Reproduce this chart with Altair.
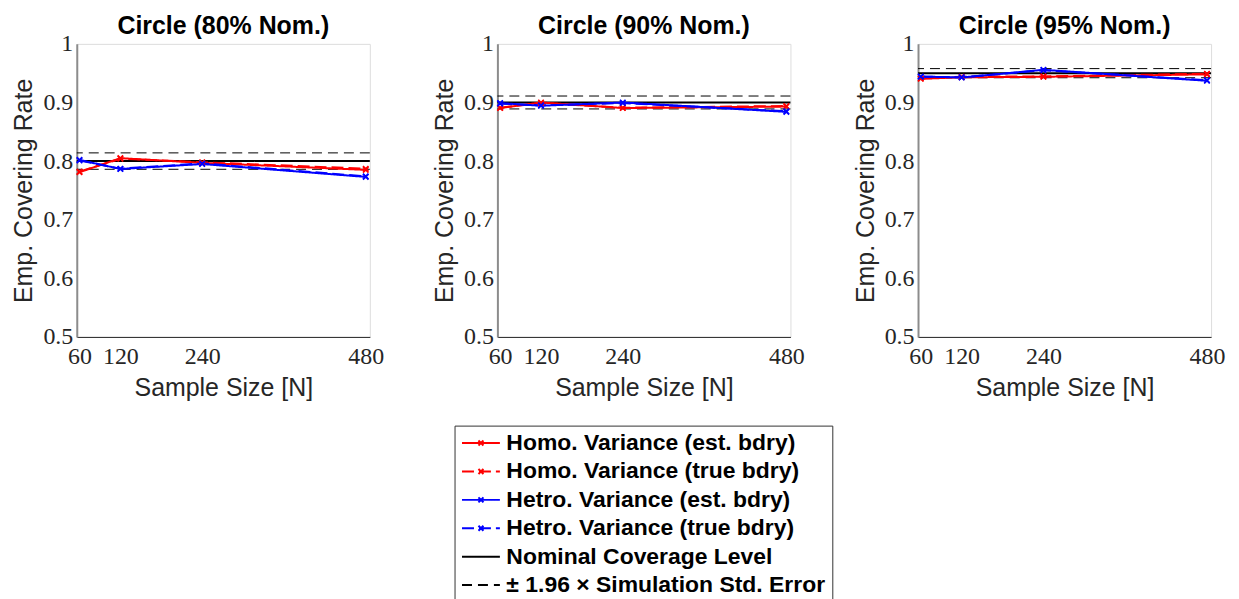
import altair as alt
import pandas as pd

sizes = [60, 120, 240, 480]
panel_titles = ["Circle (80% Nom.)", "Circle (90% Nom.)", "Circle (95% Nom.)"]
nominal = [0.80, 0.90, 0.95]
se_low = [0.786, 0.889, 0.9422]
se_high = [0.814, 0.911, 0.9578]

homo_est = [[0.781, 0.805, 0.797, 0.785],
            [0.8905, 0.900, 0.8905, 0.893],
            [0.9404, 0.943, 0.9438, 0.948]]
homo_true = [[0.782, 0.804, 0.798, 0.787],
             [0.8910, 0.899, 0.8910, 0.894],
             [0.9410, 0.944, 0.9445, 0.949]]
hetro_est = [[0.802, 0.7865, 0.795, 0.773],
             [0.899, 0.8944, 0.900, 0.884],
             [0.9443, 0.9426, 0.9557, 0.937]]
hetro_true = [[0.801, 0.7870, 0.796, 0.774],
              [0.898, 0.8950, 0.899, 0.885],
              [0.9440, 0.9430, 0.9550, 0.938]]

series = ["Homo. Variance (est. bdry)", "Homo. Variance (true bdry)",
          "Hetro. Variance (est. bdry)", "Hetro. Variance (true bdry)",
          "Nominal Coverage Level", "\u00b1 1.96 \u00d7 Simulation Std. Error"]
colors = ["#ff0000", "#ff0000", "#0000ff", "#0000ff", "#000000", "#000000"]
dashes = [[1, 0], [12, 5], [1, 0], [12, 5], [1, 0], [10, 6]]
mk = "M-1,0L2.8,0M0.65,-0.25L1.15,0.25M0.65,0.25L1.15,-0.25"
ln = "M-1,0L2.8,0"
legend_shapes = [mk, mk, mk, mk, ln, ln]

rows = []
for p in range(3):
    for s_name, arr in zip(series[:4], [homo_est, homo_true, hetro_est, hetro_true]):
        for n, v in zip(sizes, arr[p]):
            rows.append({"panel": p, "series": s_name, "N": n, "rate": v})
df = pd.DataFrame(rows)

rule_rows = []
for p in range(3):
    rule_rows.append({"panel": p, "series": series[4], "value": nominal[p]})
    rule_rows.append({"panel": p, "series": series[5], "value": se_low[p]})
    rule_rows.append({"panel": p, "series": series[5], "value": se_high[p]})
df_rules = pd.DataFrame(rule_rows)
df_leg = pd.DataFrame({"series": series})

leg = alt.Legend(title=None, orient="none", legendX=379, legendY=383,
                 symbolSize=400, symbolStrokeWidth=2, labelFont="Liberation Sans",
                 labelFontSize=23, labelFontWeight="bold", labelColor="#000000",
                 labelLimit=600, labelOffset=23, padding=6, rowPadding=4.5,
                 strokeColor="#333333", fillColor="#ffffff", direction="vertical")

color_enc = alt.Color("series:N", scale=alt.Scale(domain=series, range=colors), legend=leg)
dash_enc = alt.StrokeDash("series:N", scale=alt.Scale(domain=series, range=dashes), legend=leg)
shape_enc = alt.Shape("series:N", scale=alt.Scale(domain=series, range=legend_shapes), legend=leg)

def panel(p):
    xs = alt.X("N:Q", scale=alt.Scale(domain=[56, 486], nice=False, zero=False),
               axis=alt.Axis(values=sizes, format="d", title="Sample Size [N]",
                             ticks=False, grid=False, domainColor="#262626",
                             labelFont="Liberation Serif", labelFontSize=24,
                             labelColor="#262626", labelPadding=8,
                             titleFont="Liberation Sans", titleFontSize=25,
                             titleFontWeight="normal", titleColor="#262626",
                             titlePadding=7))
    ys = alt.Y("rate:Q", scale=alt.Scale(domain=[0.5, 1], nice=False, zero=False),
               axis=alt.Axis(values=[0.5, 0.6, 0.7, 0.8, 0.9, 1.0], format=".1~f",
                             title="Emp. Covering Rate", ticks=False, grid=False,
                             domainColor="#8c8c8c", domainWidth=2,
                             labelFont="Liberation Serif", labelFontSize=24,
                             labelColor="#262626", labelPadding=4,
                             titleFont="Liberation Sans", titleFontSize=25,
                             titleFontWeight="normal", titleColor="#262626",
                             titlePadding=6))
    base = alt.Chart(df).transform_filter(alt.datum.panel == p)
    lines = base.mark_line(strokeWidth=2).encode(x=xs, y=ys, color=color_enc,
                                                 strokeDash=dash_enc, detail="series:N")
    pts = base.mark_point(shape="M-1,-1L1,1M-1,1L1,-1", size=30, strokeWidth=1.6,
                          filled=False, opacity=1).encode(x=xs, y=ys, color=color_enc)
    rb = alt.Chart(df_rules).transform_filter(alt.datum.panel == p)
    nom = rb.transform_filter(alt.datum.series == series[4]).mark_rule(strokeWidth=2).encode(
        y=alt.Y("value:Q"), color=color_enc, strokeDash=dash_enc)
    se = rb.transform_filter(alt.datum.series == series[5]).mark_rule(strokeWidth=1).encode(
        y=alt.Y("value:Q"), color=color_enc, strokeDash=dash_enc)
    legl = alt.Chart(df_leg).transform_filter("false").mark_point(filled=False).encode(
        color=color_enc, strokeDash=dash_enc, shape=shape_enc)
    return alt.layer(se, nom, lines, pts, legl).properties(
        width=294, height=294,
        title=alt.TitleParams(panel_titles[p], font="Liberation Sans", fontSize=25,
                              fontWeight="bold", color="#000000", anchor="middle", offset=-7))

chart = alt.hconcat(panel(0), panel(1), panel(2), spacing=47).properties(
    padding={"left": 3, "top": 4, "right": 5, "bottom": 5}
).configure_view(stroke=None).configure(background="white")

chart.save("out.html", embed_options={"renderer": "svg", "actions": False})
